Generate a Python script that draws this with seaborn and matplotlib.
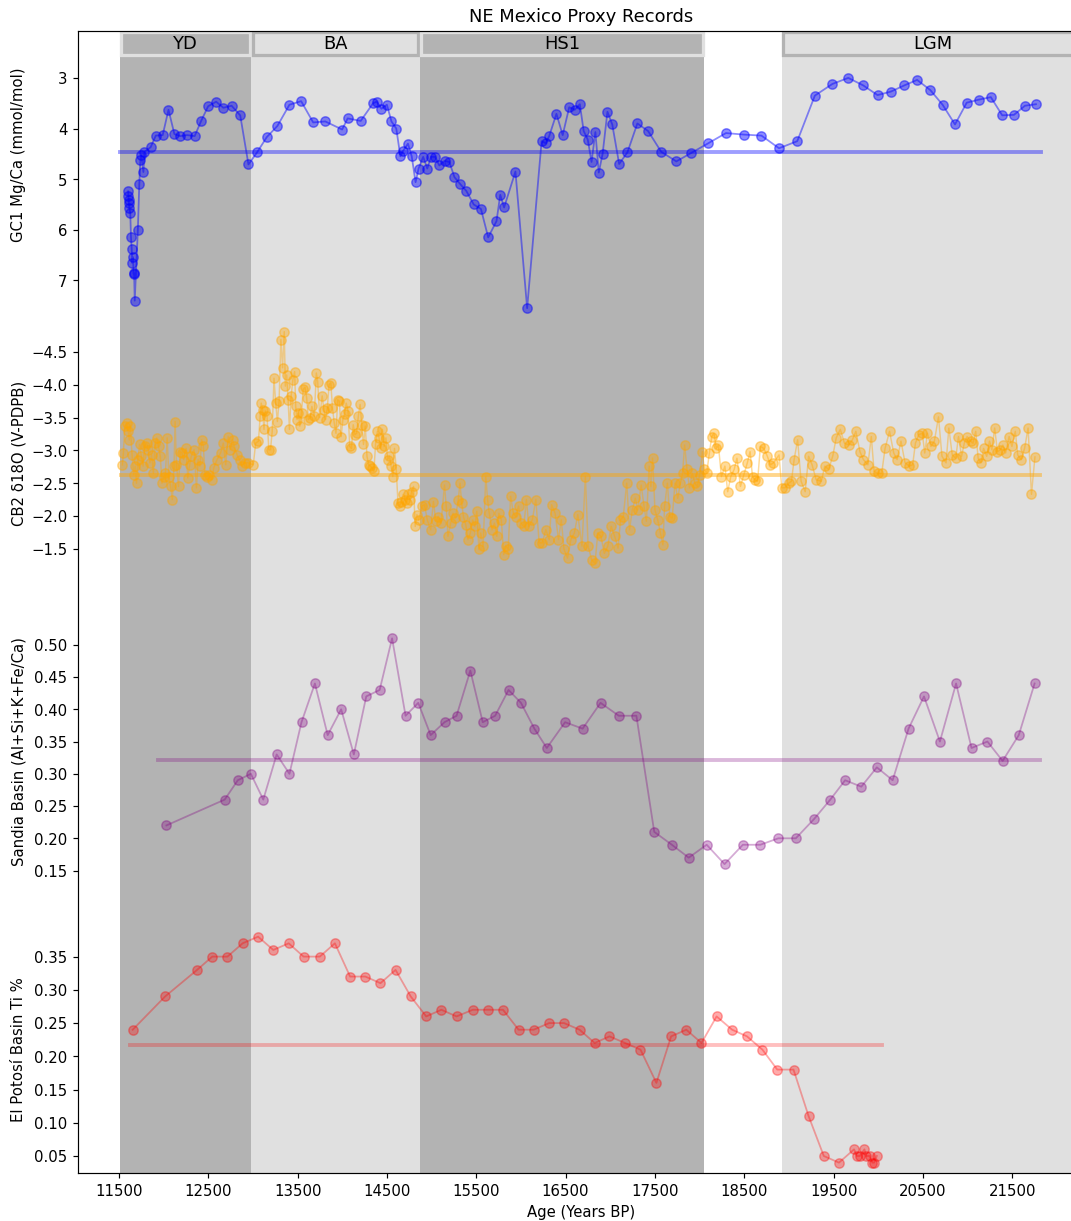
import matplotlib
matplotlib.use("Agg")
import matplotlib.pyplot as plt
import matplotlib.transforms as mtransforms
from matplotlib.patches import Rectangle
import seaborn as sns

# ---------------- data ----------------
period_labels = ["YD", "BA", "HS1", "LGM"]
period_start = [11510, 12980, 14870, 18920]
period_end = [12980, 14870, 18050, 22300]
period_dark = [True, False, True, False]

x_ticks = [11500, 12500, 13500, 14500, 15500, 16500, 17500, 18500, 19500, 20500, 21500]

# GC1 Mg/Ca (mmol/mol)
gc1_age = [11604, 11606, 11610, 11612, 11616, 11627, 11635, 11643, 11650, 11658, 11664, 11670,
           11677, 11712, 11728, 11740, 11751, 11774, 11786, 11855, 11913, 11990, 12055, 12121,
           12186, 12264, 12348, 12418, 12499, 12588, 12669, 12761, 12858, 12950, 13047, 13155,
           13274, 13409, 13540, 13675, 13810, 13999, 14061, 14207, 14346, 14385, 14439, 14500,
           14551, 14605, 14651, 14678, 14736, 14778, 14821, 14855, 14906, 14952, 14994, 15040,
           15087, 15145, 15199, 15256, 15322, 15388, 15472, 15553, 15634, 15727, 15769, 15812,
           15939, 16070, 16232, 16279, 16317, 16398, 16468, 16541, 16603, 16660, 16703, 16749,
           16791, 16834, 16872, 16915, 16969, 17023, 17100, 17193, 17304, 17424, 17571, 17740,
           17910, 18099, 18296, 18496, 18693, 18890, 19094, 19291, 19487, 19665, 19834, 19993,
           20143, 20290, 20436, 20583, 20721, 20860, 20991, 21126, 21261, 21389, 21520, 21643,
           21766]
gc1_mgca = [5.24, 5.34, 5.41, 5.48, 5.57, 5.67, 6.15, 6.38, 6.66, 6.54, 6.87, 6.86,
            7.40, 6.00, 5.10, 4.63, 4.53, 4.86, 4.46, 4.37, 4.14, 4.13, 3.63, 4.11,
            4.15, 4.13, 4.15, 3.86, 3.56, 3.47, 3.59, 3.55, 3.74, 4.71, 4.47, 4.17,
            3.95, 3.53, 3.46, 3.88, 3.86, 4.02, 3.80, 3.85, 3.50, 3.47, 3.61, 3.53,
            3.86, 4.00, 4.55, 4.45, 4.30, 4.55, 5.06, 4.79, 4.56, 4.79, 4.56, 4.56,
            4.73, 4.64, 4.66, 4.96, 5.10, 5.23, 5.50, 5.59, 6.15, 5.83, 5.31, 5.56,
            4.85, 7.55, 4.25, 4.29, 4.15, 3.71, 4.13, 3.58, 3.63, 3.52, 4.05, 4.22,
            4.66, 4.07, 4.87, 4.50, 3.67, 3.92, 4.70, 4.47, 3.90, 4.05, 4.46, 4.65,
            4.48, 4.29, 4.09, 4.12, 4.14, 4.39, 4.25, 3.35, 3.12, 3.00, 3.15, 3.34,
            3.27, 3.15, 3.04, 3.24, 3.53, 3.92, 3.49, 3.43, 3.38, 3.74, 3.73, 3.55,
            3.52]
gc1_mean = 4.46
gc1_mean_span = [11512, 21828]
gc1_ticks = [3, 4, 5, 6, 7]

# CB2 d18O (V-PDB)
cb2_age = [11539, 11550, 11566, 11585, 11604, 11616, 11627, 11647, 11666, 11681, 11697, 11712,
           11731, 11751, 11770, 11789, 11809, 11828, 11847, 11866, 11886, 11905, 11924, 11944,
           11963, 11982, 12001, 12021, 12040, 12059, 12079, 12098, 12117, 12129, 12144, 12167,
           12186, 12206, 12225, 12252, 12271, 12291, 12310, 12341, 12368, 12387, 12406, 12426,
           12445, 12464, 12483, 12510, 12541, 12561, 12599, 12638, 12669, 12696, 12723, 12746,
           12773, 12792, 12823, 12850, 12877, 12908, 12946, 13004,
           13031, 13062, 13081, 13093, 13108, 13124, 13139, 13158, 13178, 13197, 13216, 13236,
           13255, 13274, 13293, 13313, 13332, 13351, 13363, 13378, 13394, 13409, 13428, 13448,
           13467, 13479, 13494, 13509, 13525, 13544, 13563, 13583, 13602, 13621, 13640, 13660,
           13687, 13710, 13725, 13748, 13775, 13795, 13814, 13833, 13853, 13872, 13891, 13910,
           13930, 13949, 13968, 13988, 14007, 14026, 14045, 14065, 14084, 14103, 14123, 14142,
           14161, 14180, 14200, 14219, 14238, 14258, 14277, 14296, 14315, 14335, 14354, 14373,
           14393, 14412, 14431, 14450, 14470, 14489, 14508, 14528, 14547, 14566, 14585, 14605,
           14624, 14643, 14663, 14682, 14701, 14720, 14740, 14759, 14778, 14798, 14817, 14836,
           14855,
           14894, 14921, 14952, 14990, 15021, 15048, 15075, 15106, 15145, 15164, 15183, 15214,
           15241, 15268, 15299, 15318, 15337, 15357, 15384, 15407, 15434, 15461, 15484, 15507,
           15530, 15550, 15577, 15607, 15627, 15646, 15677, 15704, 15731, 15754, 15781, 15808,
           15831, 15858, 15885, 15916, 15943, 15974, 16001, 16032, 16062, 16089, 16128, 16167,
           16205, 16240, 16279, 16317, 16344, 16383, 16421, 16452, 16483, 16522, 16560, 16599,
           16637, 16684, 16722, 16753, 16792, 16830, 16861, 16896, 16934, 16973, 17011, 17050,
           17088, 17115, 17146, 17185, 17216, 17247, 17281, 17308, 17347, 17378, 17405, 17436,
           17455, 17474, 17501, 17532, 17563, 17590, 17609, 17640, 17667, 17694, 17725, 17756,
           17786, 17810, 17833, 17860, 17887, 17918, 17948, 17975, 18002, 18033, 18053,
           18080, 18110, 18137, 18161, 18188, 18211, 18245, 18284, 18315, 18350, 18388, 18419,
           18458, 18496, 18535, 18566, 18593, 18620, 18650, 18681, 18720, 18759, 18793, 18828,
           18890,
           18920, 18959, 18998, 19029, 19059, 19098, 19137, 19183, 19221, 19260, 19306, 19364,
           19402, 19445, 19491, 19530, 19576, 19622, 19672, 19711, 19750, 19796, 19834, 19885,
           19923, 19954, 19993, 20039, 20077, 20127, 20174, 20212, 20255, 20301, 20347, 20386,
           20417, 20455, 20494, 20521, 20552, 20590, 20629, 20675, 20714, 20760, 20791, 20829,
           20868, 20899, 20934, 20964, 20995, 21034, 21061, 21092, 21119, 21150, 21180, 21215,
           21246, 21273, 21304, 21335, 21369, 21396, 21427, 21466, 21497, 21535, 21562, 21601,
           21639, 21678, 21716, 21755]
cb2_d18o = [-2.78, -2.96, -3.37, -3.41, -3.29, -3.16, -3.37, -2.93, -2.63, -2.76, -2.50, -2.86,
            -3.09, -2.91, -2.76, -3.06, -3.11, -3.01, -2.81, -2.93, -2.65, -3.11, -3.19, -3.06,
            -2.91, -2.50, -2.60, -2.65, -3.19, -2.60, -2.45, -2.25, -2.76, -3.44, -2.78, -2.45,
            -2.98, -2.96, -2.86, -3.03, -2.58, -2.78, -2.91, -3.01, -2.43, -2.86, -2.76, -3.16,
            -3.06, -2.63, -2.60, -2.63, -2.55, -2.73, -2.86, -2.96, -3.11, -2.78, -3.21, -3.01,
            -3.16, -3.06, -2.93, -2.86, -2.76, -2.81, -2.81, -2.78,
            -3.11, -3.14, -3.52, -3.72, -3.62, -3.32, -3.60, -3.52, -3.01, -3.01, -3.29, -4.10,
            -3.72, -3.44, -3.75, -4.69, -4.26, -4.81, -3.98, -4.15, -3.77, -3.32, -3.83, -4.08,
            -4.20, -3.67, -3.47, -3.57, -3.37, -3.57, -3.93, -3.96, -3.80, -3.47, -3.50, -3.67,
            -3.52, -4.18, -4.05, -3.50, -3.83, -3.62, -3.47, -3.65, -4.00, -4.03, -3.65, -3.42,
            -3.26, -3.77, -3.75, -3.21, -3.47, -3.55, -3.72, -3.60, -3.06, -3.03, -3.39, -3.24,
            -3.26, -3.52, -3.70, -3.39, -3.09, -3.37, -2.91, -2.78, -2.76, -2.73, -2.68, -3.09,
            -3.29, -3.19, -3.03, -3.32, -3.06, -3.19, -2.86, -2.91, -2.76, -2.60, -3.03, -2.71,
            -2.20, -2.15, -2.22, -2.33, -2.25, -2.20, -2.33, -2.25, -2.37, -2.45, -1.84, -2.02,
            -1.94,
            -2.15, -2.17, -1.94, -1.79, -2.22, -1.92, -1.99, -1.89, -2.47, -2.15, -1.69, -1.89,
            -2.04, -1.97, -2.25, -2.50, -2.20, -1.99, -1.86, -1.64, -1.74, -1.94, -1.84, -2.07,
            -1.49, -1.74, -1.54, -2.60, -2.25, -2.04, -1.79, -1.89, -1.69, -2.04, -1.94, -1.41,
            -1.54, -1.49, -2.30, -2.04, -1.99, -2.15, -1.89, -1.84, -2.25, -1.84, -1.94, -2.25,
            -1.59, -1.59, -1.79, -1.64, -2.17, -2.04, -1.64, -1.94, -1.49, -1.36, -1.64, -1.74,
            -2.02, -1.54, -2.60, -1.54, -1.33, -1.28, -1.74, -1.69, -1.43, -1.54, -1.84, -1.69,
            -1.51, -1.94, -1.99, -2.50, -1.79, -2.09, -2.27, -2.09, -2.47, -2.15, -1.92, -2.76,
            -2.45, -2.88, -2.09, -1.94, -1.74, -1.56, -2.15, -2.50, -1.99, -1.97, -2.50, -2.27,
            -2.50, -2.65, -3.08, -2.71, -2.43, -2.65, -2.50, -2.45, -2.63, -2.98, -2.71,
            -2.65, -2.96, -3.21, -3.26, -3.03, -3.08, -2.60, -2.76, -2.37, -2.60, -2.71, -2.88,
            -2.45, -2.63, -2.81, -2.98, -2.60, -2.55, -2.53, -3.06, -3.03, -2.91, -2.78, -2.81,
            -2.93,
            -2.43, -2.43, -2.50, -2.53, -2.86, -3.16, -2.53, -2.37, -2.91, -2.78, -2.55, -2.53,
            -2.76, -2.71, -2.91, -3.19, -3.32, -3.11, -3.08, -3.16, -3.29, -2.98, -2.86, -2.78,
            -3.21, -2.68, -2.65, -2.65, -3.03, -3.29, -2.96, -2.86, -3.14, -2.81, -2.76, -2.78,
            -3.11, -3.24, -3.26, -2.96, -3.26, -3.06, -3.14, -3.51, -2.91, -2.81, -3.34, -2.93,
            -2.88, -3.21, -2.91, -3.11, -3.21, -3.14, -3.11, -3.29, -2.88, -2.81, -3.03, -2.91,
            -3.14, -3.01, -3.34, -2.98, -3.01, -3.08, -2.96, -3.21, -3.06, -3.29, -2.93, -2.86,
            -3.03, -3.34, -2.33, -2.90]
cb2_mean = -2.62
cb2_mean_span = [11527, 21813]
cb2_ticks = [-4.5, -4.0, -3.5, -3.0, -2.5, -2.0, -1.5]

# Sandia Basin (Al+Si+K+Fe/Ca)
sandia_age = [12032, 12684, 12831, 12977, 13116, 13266, 13409, 13544, 13694, 13837, 13988, 14130,
              14269, 14419, 14558, 14709, 14851, 14990, 15145, 15280, 15434, 15573, 15712, 15862,
              16001, 16151, 16290, 16495, 16691, 16892, 17096, 17293, 17493, 17690, 17879, 18080,
              18280, 18485, 18681, 18882, 19078, 19283, 19464, 19630, 19811, 19985, 20162, 20340,
              20513, 20691, 20872, 21045, 21223, 21393, 21574, 21751]
sandia_ratio = [0.22, 0.26, 0.29, 0.30, 0.26, 0.33, 0.30, 0.38, 0.44, 0.36, 0.40, 0.33,
                0.42, 0.43, 0.51, 0.39, 0.41, 0.36, 0.38, 0.39, 0.46, 0.38, 0.39, 0.43,
                0.41, 0.37, 0.34, 0.38, 0.37, 0.41, 0.39, 0.39, 0.21, 0.19, 0.17, 0.19,
                0.16, 0.19, 0.19, 0.20, 0.20, 0.23, 0.26, 0.29, 0.28, 0.31, 0.29, 0.37,
                0.42, 0.35, 0.44, 0.34, 0.35, 0.32, 0.36, 0.44]
sandia_mean = 0.321
sandia_mean_span = [11936, 21813]
sandia_ticks = [0.15, 0.20, 0.25, 0.30, 0.35, 0.40, 0.45, 0.50]

# El Potosí Basin Ti %
potosi_age = [11654, 12017, 12375, 12545, 12715, 12885, 13058, 13228, 13401, 13567, 13749, 13918,
              14088, 14258, 14428, 14597, 14767, 14940, 15110, 15280, 15461, 15631, 15800, 15974,
              16143, 16317, 16483, 16657, 16826, 16992, 17166, 17339, 17517, 17682, 17852, 18022,
              18191, 18365, 18531, 18704, 18870, 19052, 19221, 19391, 19561, 19730, 19761, 19796,
              19846, 19865, 19904, 19935, 19954, 19985]
potosi_ti = [0.24, 0.29, 0.33, 0.35, 0.35, 0.37, 0.38, 0.36, 0.37, 0.35, 0.35, 0.37,
             0.32, 0.32, 0.31, 0.33, 0.29, 0.26, 0.27, 0.26, 0.27, 0.27, 0.27, 0.24,
             0.24, 0.25, 0.25, 0.24, 0.22, 0.23, 0.22, 0.21, 0.16, 0.23, 0.24, 0.22,
             0.26, 0.24, 0.23, 0.21, 0.18, 0.18, 0.11, 0.05, 0.04, 0.06, 0.05, 0.05,
             0.06, 0.05, 0.05, 0.04, 0.04, 0.05]
potosi_mean = 0.2166
potosi_mean_span = [11623, 20039]
potosi_ticks = [0.05, 0.10, 0.15, 0.20, 0.25, 0.30, 0.35]

# ---------------- layout (pixel geometry of the reference) ----------------
W, H, DPI = 1071, 1221, 107
fig = plt.figure(figsize=(W / DPI + 0.004, H / DPI + 0.004), dpi=DPI, facecolor="white")


def fig_rect(left, top, right, bottom):
    return [left / W, 1 - bottom / H, (right - left) / W, (bottom - top) / H]


AX_L, AX_R, AX_T, AX_B = 77.8, 1083.2, 31.0, 1173.3
XLIM = (11040, 22300)

bg = fig.add_axes(fig_rect(AX_L, AX_T, AX_R, AX_B))
bg.set_xlim(*XLIM)
bg.set_ylim(0, 1)
bg.set_yticks([])
bg.spines["right"].set_visible(False)
bg.set_xticks(x_ticks)
bg.set_xlabel("Age (Years BP)")
bg.set_title("NE Mexico Proxy Records")

DARK, LIGHT = "#b3b3b3", "#e0e0e0"
AX_H = AX_B - AX_T
band_top = (AX_B - 56.7) / AX_H
inset_y = 1.5 / AX_H
inset_x = 1.5 / 0.08929  # pixels -> years
label_y = (AX_B - 44.0) / AX_H
trans = mtransforms.blended_transform_factory(bg.transData, bg.transAxes)
for lab, s, e, dark in zip(period_labels, period_start, period_end, period_dark):
    fc = DARK if dark else LIGHT
    ec = LIGHT if dark else DARK
    bg.axvspan(s, e, ymin=0, ymax=1, color=fc, lw=0, zorder=0)
    bg.add_patch(Rectangle((s + inset_x, band_top + inset_y), e - s - 2 * inset_x,
                           1 - band_top - 2 * inset_y, transform=trans,
                           facecolor=fc, edgecolor=ec, lw=2.2, zorder=1, clip_on=True))
    bg.text((s + e) / 2, label_y, lab, transform=trans, ha="center", va="center",
            fontsize=12, zorder=2)

# data panels: transparent axes centred on their y-labels
panels = [
    dict(x=gc1_age, y=gc1_mgca, mean=gc1_mean, span=gc1_mean_span, ticks=gc1_ticks,
         color="blue", alpha=0.45, malpha=0.38, lw=1.2,
         label="GC1 Mg/Ca (mmol/mol)", center=155.0, ref_px=78.3, ref_val=3.0, ppu=50.6, inv=True),
    dict(x=cb2_age, y=cb2_d18o, mean=cb2_mean, span=cb2_mean_span, ticks=cb2_ticks,
         color="orange", alpha=0.4, malpha=0.45, lw=1.0,
         label="CB2 δ18O (V-PDPB)", center=453.3, ref_px=352.3, ref_val=-4.5, ppu=65.56, inv=True),
    dict(x=sandia_age, y=sandia_ratio, mean=sandia_mean, span=sandia_mean_span, ticks=sandia_ticks,
         color="purple", alpha=0.33, malpha=0.28, lw=1.2,
         label="Sandia Basin (Al+Si+K+Fe/Ca)", center=750.8, ref_px=645.0, ref_val=0.50, ppu=644.8, inv=False),
    dict(x=potosi_age, y=potosi_ti, mean=potosi_mean, span=potosi_mean_span, ticks=potosi_ticks,
         color="red", alpha=0.33, malpha=0.25, lw=1.2,
         label="El Potosí Basin Ti %", center=1049.2, ref_px=956.7, ref_val=0.35, ppu=664.4, inv=False),
]

HALF = 185.0
LABEL_X_PX = 26.3
for p in panels:
    top_px, bot_px = p["center"] - HALF, p["center"] + HALF
    ax = fig.add_axes(fig_rect(AX_L, top_px, AX_R, bot_px))
    ax.patch.set_visible(False)
    for sp in ax.spines.values():
        sp.set_visible(False)

    sns.lineplot(x=p["span"], y=[p["mean"], p["mean"]], ax=ax, color=p["color"],
                 alpha=p["malpha"], linewidth=2.6, estimator=None, sort=False, legend=False)
    sns.lineplot(x=p["x"], y=p["y"], ax=ax, color=p["color"], marker="o", markersize=6.3,
                 markeredgecolor=p["color"], markeredgewidth=1.0, alpha=p["alpha"],
                 linewidth=p["lw"], estimator=None, sort=False, legend=False)

    def val(py, p=p):
        d = (py - p["ref_px"]) / p["ppu"]
        return p["ref_val"] + d if p["inv"] else p["ref_val"] - d

    ax.set_xlim(*XLIM)
    ax.set_ylim(val(bot_px), val(top_px))
    ax.set_yticks(p["ticks"])
    ax.tick_params(axis="x", bottom=False, labelbottom=False)
    ax.set_xlabel("")
    ax.set_ylabel(p["label"])
    ax.yaxis.set_label_coords((LABEL_X_PX - AX_L) / (AX_R - AX_L), 0.5)

fig.savefig("out.png", dpi=DPI)
